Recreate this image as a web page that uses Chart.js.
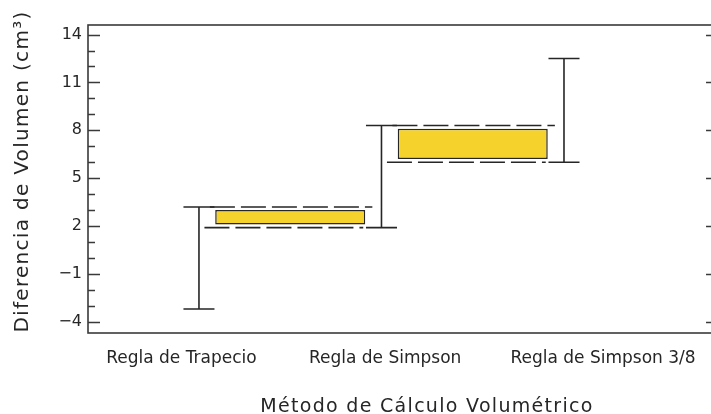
<!DOCTYPE html>
<html>
<head>
<meta charset="utf-8">
<script src="https://cdn.jsdelivr.net/npm/chart.js@4"></script>
<style>
  html, body { margin: 0; padding: 0; background: #fff; }
  #wrap { width: 711px; height: 414px; }
</style>
</head>
<body>
<div id="wrap"><canvas id="chart"></canvas></div>
<script>
// Data
const methods = ['Regla de Trapecio', 'Regla de Simpson', 'Regla de Simpson 3/8'];
const whiskerLow = [-3.2, 1.9, 6.0];
const whiskerHigh = [3.2, 8.3, 12.5];
const boxLow = [2.1, 6.2];
const boxHigh = [3.0, 8.1];
const yTicks = [-4, -1, 2, 5, 8, 11, 14];

// layout helpers (not data)
const labelPos = [0.904, 2.02, 3.214];
const CAP = 0.085;
const FRAME_RIGHT = 3.844;   // plot frame continues a little past the picture edge
const INK = '#262626';

Chart.defaults.font.family = "'DejaVu Sans', sans-serif";
Chart.defaults.color = INK;

// whiskers: top cap, stem, bottom cap for each method
const whiskerPts = [];
whiskerLow.forEach((lo, i) => {
    const x = i + 1;
    const hi = whiskerHigh[i];
    whiskerPts.push({x: x - CAP, y: hi}, {x: x + CAP, y: hi}, {x: x, y: null});
    whiskerPts.push({x: x, y: hi}, {x: x, y: lo}, {x: x, y: null});
    whiskerPts.push({x: x - CAP, y: lo}, {x: x + CAP, y: lo}, {x: x, y: null});
});

// dashed guide lines between neighbouring whiskers
const dashPts = [];
boxLow.forEach((b, i) => {
    const x0 = i + 1.06, x1 = i + 1.95;
    dashPts.push({x: x0, y: whiskerHigh[i]}, {x: x1, y: whiskerHigh[i]}, {x: x0, y: null});
    dashPts.push({x: x0 - 0.03, y: whiskerLow[i + 1]}, {x: x1 - 0.05, y: whiskerLow[i + 1]}, {x: x0, y: null});
});

const boxPts = boxLow.map((lo, i) => ({x: i + 1.5, y: [lo, boxHigh[i]]}));

// frame + inward tick marks (major and minor)
const framePlugin = {
    id: 'frame',
    afterDraw(chart) {
        const {ctx, chartArea: {left, top, bottom}, scales: {x, y}} = chart;
        const right = x.getPixelForValue(FRAME_RIGHT);
        ctx.save();
        ctx.strokeStyle = '#3a3a3a';
        ctx.lineWidth = 1.6;
        ctx.strokeRect(left, top, right - left, bottom - top);
        ctx.lineWidth = 1.4;
        ctx.beginPath();
        for (let v = Math.ceil(y.min); v <= y.max; v++) {
            const py = Math.round(y.getPixelForValue(v)) + 0.5;
            const len = yTicks.includes(v) ? 12 : 7;
            ctx.moveTo(left, py); ctx.lineTo(left + len, py);
            ctx.moveTo(right, py); ctx.lineTo(right - len, py);
        }
        ctx.stroke();
        ctx.restore();
    }
};

// wide-spaced axis titles; tick labels are drawn later with normal spacing
const titleSpacing = {
    id: 'titleSpacing',
    afterLayout(chart) {
        // centre the titles where the original figure has them
        chart.scales.x.right += 56;
        chart.scales.y.bottom -= 15;
    },
    beforeDraw(chart) { chart.ctx.letterSpacing = '1.3px'; },
    beforeDatasetsDraw(chart) { chart.ctx.letterSpacing = '0px'; }
};

new Chart(document.getElementById('chart'), {
    type: 'line',
    data: {
        datasets: [
            {
                type: 'bar',
                data: boxPts,
                backgroundColor: '#F6D32C',
                borderColor: INK,
                borderWidth: 1.5,
                borderSkipped: false,
                barPercentage: 1,
                categoryPercentage: 0.822,
                order: 2
            },
            {
                data: dashPts,
                borderColor: INK,
                borderWidth: 1.6,
                borderDash: [25, 6],
                pointRadius: 0,
                spanGaps: false,
                order: 1
            },
            {
                data: whiskerPts,
                borderColor: INK,
                borderWidth: 1.6,
                pointRadius: 0,
                spanGaps: false,
                order: 0
            }
        ]
    },
    options: {
        responsive: true,
        maintainAspectRatio: false,
        animation: false,
        layout: {
            padding: {top: 25, right: 1, bottom: 0, left: 0}
        },
        plugins: {
            legend: {display: false},
            tooltip: {enabled: false}
        },
        scales: {
            x: {
                type: 'linear',
                min: 0.392,
                max: 3.8,
                offset: false,
                grid: {display: false},
                border: {display: false},
                afterBuildTicks: scale => {
                    scale.ticks = labelPos.map(v => ({value: v}));
                },
                afterFit: scale => { scale.height = 81; },
                ticks: {
                    z: 1,
                    autoSkip: false,
                    maxRotation: 0,
                    padding: 7,
                    font: {size: 17},
                    callback: (v, i) => methods[i]
                },
                title: {
                    display: true,
                    text: 'Método de Cálculo Volumétrico',
                    font: {size: 19, lineHeight: 1},
                    padding: {top: 0, bottom: -3}
                }
            },
            y: {
                type: 'linear',
                min: -4.7,
                max: 14.6,
                grid: {display: false, drawTicks: false},
                border: {display: false},
                afterBuildTicks: scale => {
                    scale.ticks = yTicks.map(v => ({value: v}));
                },
                afterFit: scale => { scale.width = 88; },
                ticks: {
                    z: 1,
                    padding: 6,
                    font: {size: 16},
                    callback: v => String(v).replace('-', '\u2212')
                },
                title: {
                    display: true,
                    text: 'Diferencia de Volumen (cm³)',
                    font: {size: 20, lineHeight: 1},
                    padding: {top: 13, bottom: 0}
                }
            }
        }
    },
    plugins: [framePlugin, titleSpacing]
});
</script>
</body>
</html>
